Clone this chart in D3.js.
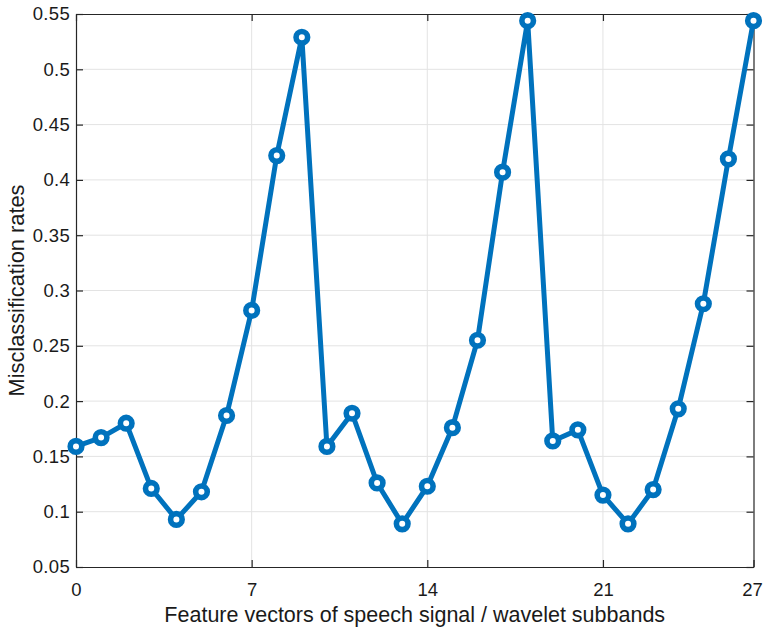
<!DOCTYPE html>
<html>
<head>
<meta charset="utf-8">
<script src="https://cdn.jsdelivr.net/npm/d3@7"></script>
<style>
  body { margin: 0; background: #fff; }
  svg text { font-family: "Liberation Sans", Arial, sans-serif; fill: #1a1a1a; }
</style>
</head>
<body>
<div id="chart"></div>
<script>
// Subband index (x) and misclassification rate (y)
const subbands = d3.range(0, 28);
const rates = [
  0.159, 0.167, 0.180, 0.121, 0.093, 0.118, 0.187, 0.282, 0.422, 0.529,
  0.159, 0.189, 0.126, 0.089, 0.123, 0.176, 0.255, 0.407, 0.544,
  0.164, 0.174, 0.115, 0.089, 0.120, 0.193, 0.288, 0.419, 0.544
];
const xTicks = [0, 7, 14, 21, 27];
const yTicks = [0.05, 0.1, 0.15, 0.2, 0.25, 0.3, 0.35, 0.4, 0.45, 0.5, 0.55];

const width = 763, height = 630;
const margin = { top: 14, right: 9.5, bottom: 63, left: 76 };
const w = width - margin.left - margin.right;
const h = height - margin.top - margin.bottom;

const svg = d3.select('#chart').append('svg')
    .attr('width', width)
    .attr('height', height);

const g = svg.append('g')
    .attr('transform', `translate(${margin.left},${margin.top})`);

const x = d3.scaleLinear().domain([0, 27]).range([0, w]);
const y = d3.scaleLinear().domain([0.05, 0.55]).range([h, 0]);

// grid
g.append('g')
    .selectAll('line.vg')
    .data(xTicks.slice(1, -1))
    .enter().append('line')
    .attr('x1', d => x(d)).attr('x2', d => x(d))
    .attr('y1', 0).attr('y2', h)
    .attr('stroke', '#e3e3e3').attr('stroke-width', 1);

g.append('g')
    .selectAll('line.hg')
    .data(yTicks.slice(1, -1))
    .enter().append('line')
    .attr('x1', 0).attr('x2', w)
    .attr('y1', d => y(d)).attr('y2', d => y(d))
    .attr('stroke', '#e3e3e3').attr('stroke-width', 1);

// axes (ticks pointing inward, box on all sides)
const tickLen = 7;
const styleAxis = sel => {
    sel.select('.domain').attr('stroke', '#262626').attr('stroke-width', 1.2);
    sel.selectAll('.tick line').attr('stroke', '#262626').attr('stroke-width', 1.2);
    sel.selectAll('.tick text')
        .style('font-size', '18.5px')
        .attr('fill', '#1a1a1a');
};

const xAxisG = g.append('g')
    .attr('transform', `translate(0,${h})`)
    .call(d3.axisBottom(x).tickValues(xTicks).tickSizeInner(-tickLen).tickSizeOuter(0).tickPadding(16))
    .call(styleAxis);
// keep the last label inside the frame
xAxisG.selectAll('.tick text').filter(d => d === 27).attr('dx', -1.5);

g.append('g')
    .call(d3.axisTop(x).tickValues(xTicks).tickSizeInner(-tickLen).tickSizeOuter(0).tickFormat(''))
    .call(styleAxis);

g.append('g')
    .call(d3.axisLeft(y).tickValues(yTicks).tickSizeInner(-tickLen).tickSizeOuter(0).tickPadding(6)
        .tickFormat(d => String(+d.toFixed(2))))
    .call(styleAxis)
    .selectAll('.tick text').style('letter-spacing', '0.3px');

g.append('g')
    .attr('transform', `translate(${w},0)`)
    .call(d3.axisRight(y).tickValues(yTicks).tickSizeInner(-tickLen).tickSizeOuter(0).tickFormat(''))
    .call(styleAxis);

// line
const points = subbands.map((s, i) => ({ s, r: rates[i] }));
const color = '#0072BD';

g.append('path')
    .datum(points)
    .attr('fill', 'none')
    .attr('stroke', color)
    .attr('stroke-width', 5)
    .attr('stroke-linejoin', 'round')
    .attr('d', d3.line().x(d => x(d.s)).y(d => y(d.r)));

g.selectAll('circle.pt')
    .data(points)
    .enter().append('circle')
    .attr('class', 'pt')
    .attr('cx', d => x(d.s))
    .attr('cy', d => y(d.r))
    .attr('r', 5.8)
    .attr('fill', '#fff')
    .attr('stroke', color)
    .attr('stroke-width', 5.6);

// labels
svg.append('text')
    .attr('x', margin.left + w / 2)
    .attr('y', 622)
    .attr('text-anchor', 'middle')
    .style('font-size', '21.5px')
    .text('Feature vectors of speech signal / wavelet subbands');

svg.append('text')
    .attr('transform', `translate(24,${margin.top + h / 2}) rotate(-90)`)
    .attr('text-anchor', 'middle')
    .style('font-size', '21.8px')
    .text('Misclassification rates');
</script>
</body>
</html>
